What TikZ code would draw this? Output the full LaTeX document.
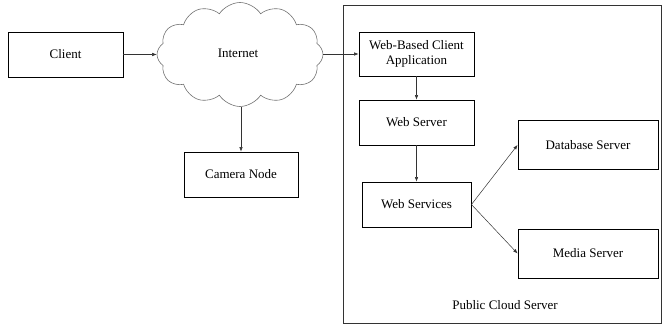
\documentclass[tikz,border=0pt]{standalone}
\usepackage{fontspec}
\setmainfont{Liberation Serif}
\usetikzlibrary{shapes.symbols,arrows.meta}
\begin{document}
\begin{tikzpicture}[x=1pt,y=-1pt,
  box/.style={draw=black,line width=0.9pt,inner sep=0pt,font=\fontsize{13}{15}\selectfont,align=center},
  conn/.style={draw=black!80,line width=0.5pt,-{Latex[length=4.5pt,width=3.5pt]}},
  plain/.style={draw=black!80,line width=0.5pt}]
\useasboundingbox (0,0) rectangle (662,328);
\node[draw=black!80,line width=0.9pt,minimum width=318pt,minimum height=318pt,inner sep=0pt] (cloudsrv) at (502,164) {};
\node[font=\fontsize{13}{15}\selectfont] (pcs) at (505,305) {Public Cloud Server};
\node[box,minimum width=115pt,minimum height=45pt] (client) at (65.5,54.5) {Client};
\node[cloud,draw=black!55,line width=0.6pt,cloud puffs=12,cloud puff arc=115,aspect=1.6,minimum width=166pt,minimum height=104pt,inner sep=0pt] (inet) at (240,54.5) {};
\node[font=\fontsize{13}{15}\selectfont] (inetlbl) at (238,53) {Internet};
\node[box,minimum width=114pt,minimum height=45pt] (cam) at (241,174.5) {Camera Node};
\node[box,minimum width=115pt,minimum height=44pt] (wbca) at (416.5,54) {Web-Based Client\\Application};
\node[box,minimum width=115pt,minimum height=45pt] (ws) at (416.5,122.5) {Web Server};
\node[box,minimum width=109pt,minimum height=45pt] (wsv) at (416.5,204.5) {Web Services};
\node[box,minimum width=140pt,minimum height=49pt] (db) at (588,145) {Database Server};
\node[box,minimum width=140pt,minimum height=49pt] (media) at (588,253.5) {Media Server};
\draw[conn] (client.east) -- (inet.west |- client.east);
\draw[plain] (inet.east |- wbca.west) -- (cloudsrv.west |- wbca.west);
\draw[conn] (cloudsrv.west |- wbca.west) -- (wbca.west);
\draw[conn] (inet.south -| cam.north) -- (cam.north);
\draw[conn] (wbca.south) -- (ws.north);
\draw[conn] (ws.south) -- (wsv.north);
\draw[conn] (wsv.east) -- (db.west);
\draw[conn] (wsv.east) -- (media.west);
\end{tikzpicture}
\end{document}
